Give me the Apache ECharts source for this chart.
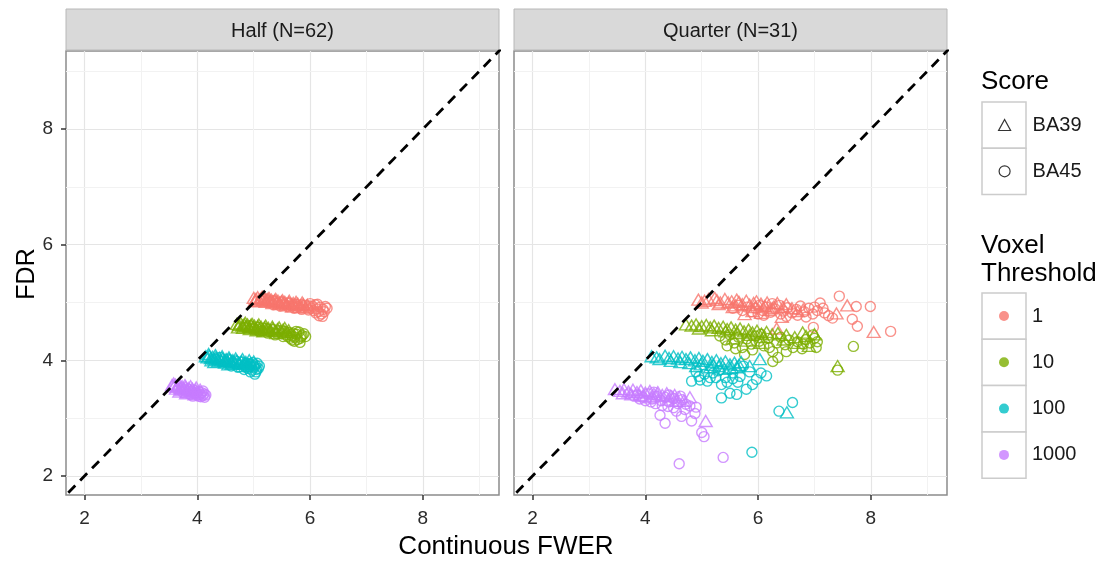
<!DOCTYPE html>
<html>
<head>
<meta charset="utf-8">
<script src="https://cdn.jsdelivr.net/npm/echarts@6/dist/echarts.min.js"></script>
<style>
html,body{margin:0;padding:0;background:#fff;}
#chart{width:1106px;height:562px;}
</style>
</head>
<body>
<div id="chart"></div>
<script>
// ---------- DATA ----------
const panelTitles = ['Half (N=62)', 'Quarter (N=31)'];
const thresholds = ['1', '10', '100', '1000'];
const scores = ['BA39', 'BA45'];
const tickValues = [2, 4, 6, 8];
const minorValues = [3, 5, 7, 9];
const axisRange = [1.67, 9.35];
const refLine = [[1.5, 1.5], [9.5, 9.5]];

// Half panel
const half_1_BA39 = [[5.00,5.08],[5.04,5.06],[5.07,5.09],[5.10,5.05],[5.13,5.07],[5.16,5.04],[5.19,5.08],[5.22,5.05],[5.25,5.06],[5.28,5.03],[5.31,5.05],[5.34,5.02],[5.37,5.04],[5.40,5.01],[5.43,5.03],[5.46,5.00],[5.49,5.02],[5.52,4.99],[5.55,5.01],[5.58,4.98],[5.62,5.00],[5.66,4.97],[5.70,4.99],[5.74,4.96],[5.78,4.98],[5.83,4.95],[5.88,4.97],[5.09,5.02],[5.21,5.01],[5.33,4.99],[5.45,4.97],[5.57,4.95],[5.02,5.03],[5.15,5.10],[5.27,5.08],[5.39,5.06],[5.51,5.04],[5.63,5.03],[5.75,5.01],[5.86,5.00],[5.95,4.96],[5.68,4.93],[5.80,4.92],[5.92,4.91]];
const half_1_BA45 = [[5.12,5.03],[5.20,5.06],[5.27,5.00],[5.35,5.03],[5.42,4.98],[5.50,5.01],[5.56,4.96],[5.63,4.99],[5.68,4.94],[5.74,4.97],[5.79,4.93],[5.84,4.96],[5.88,4.92],[5.92,4.95],[5.95,4.91],[5.99,4.94],[6.02,4.90],[6.05,4.93],[6.09,4.96],[6.12,4.89],[6.15,4.84],[6.18,4.92],[6.20,4.80],[6.23,4.88],[6.27,4.93],[6.10,4.82],[6.16,4.77],[5.97,4.87],[6.06,4.86],[5.35,4.96],[5.47,4.94],[5.60,4.93],[5.72,4.90],[5.85,4.88],[6.00,4.98],[6.13,4.97],[6.25,4.84],[6.30,4.90],[6.22,4.76]];
const half_10_BA39 = [[4.70,4.63],[4.74,4.61],[4.77,4.64],[4.80,4.60],[4.83,4.62],[4.86,4.59],[4.89,4.62],[4.92,4.58],[4.95,4.61],[4.98,4.57],[5.01,4.60],[5.04,4.56],[5.07,4.59],[5.10,4.55],[5.13,4.58],[5.16,4.54],[5.19,4.57],[5.22,4.53],[5.26,4.56],[5.30,4.52],[5.34,4.55],[5.38,4.51],[5.42,4.54],[5.47,4.50],[5.52,4.53],[5.57,4.49],[4.81,4.56],[4.93,4.54],[5.05,4.52],[5.17,4.50],[4.72,4.57],[4.85,4.65],[4.97,4.63],[5.09,4.62],[5.21,4.60],[5.33,4.58],[5.45,4.57],[5.55,4.56],[5.62,4.52],[5.40,4.47]];
const half_10_BA45 = [[4.85,4.57],[4.93,4.60],[5.00,4.54],[5.08,4.57],[5.15,4.51],[5.22,4.55],[5.28,4.49],[5.34,4.53],[5.40,4.47],[5.45,4.51],[5.50,4.46],[5.55,4.50],[5.59,4.44],[5.63,4.48],[5.67,4.42],[5.70,4.47],[5.73,4.40],[5.76,4.45],[5.80,4.49],[5.83,4.38],[5.86,4.43],[5.89,4.46],[5.72,4.33],[5.78,4.36],[5.65,4.38],[5.84,4.41],[5.60,4.41],[5.10,4.50],[5.25,4.47],[5.38,4.44],[5.52,4.41],[5.66,4.45],[5.75,4.50],[5.92,4.41],[5.82,4.31],[5.68,4.35]];
const half_100_BA39 = [[4.15,4.07],[4.18,4.05],[4.21,4.08],[4.24,4.04],[4.27,4.06],[4.30,4.02],[4.33,4.05],[4.36,4.01],[4.39,4.04],[4.42,4.00],[4.45,4.03],[4.48,3.99],[4.51,4.02],[4.54,3.98],[4.57,4.01],[4.60,3.97],[4.63,4.00],[4.66,3.96],[4.70,3.99],[4.74,3.95],[4.78,3.98],[4.82,3.94],[4.86,3.97],[4.90,3.93],[4.95,3.95],[4.25,4.00],[4.37,3.98],[4.49,3.96],[4.61,3.94],[4.20,4.11],[4.32,4.09],[4.44,4.07],[4.56,4.05],[4.68,4.03],[4.80,4.02],[4.92,4.00],[4.30,3.97],[4.55,3.93],[4.80,3.90],[5.00,3.98]];
const half_100_BA45 = [[4.32,4.02],[4.40,4.05],[4.47,3.99],[4.55,4.02],[4.62,3.96],[4.68,3.99],[4.74,3.93],[4.79,3.97],[4.84,3.91],[4.88,3.95],[4.92,3.89],[4.95,3.93],[4.98,3.96],[5.01,3.88],[5.03,3.92],[5.06,3.95],[5.08,3.86],[4.90,3.86],[4.97,3.83],[5.04,3.80],[4.86,3.88],[5.00,3.90],[4.60,3.90],[4.72,3.88],[4.83,3.84],[4.94,3.80],[5.05,3.84],[5.10,3.90],[4.70,3.94],[5.02,3.76]];
const half_1000_BA39 = [[3.55,3.57],[3.58,3.55],[3.61,3.58],[3.64,3.54],[3.67,3.56],[3.70,3.52],[3.73,3.55],[3.76,3.51],[3.79,3.54],[3.82,3.50],[3.85,3.52],[3.88,3.48],[3.91,3.51],[3.94,3.47],[3.97,3.49],[4.00,3.45],[3.62,3.51],[3.72,3.49],[3.82,3.46],[3.92,3.44],[3.58,3.60],[3.68,3.59],[3.78,3.57],[3.88,3.55],[3.98,3.53],[3.68,3.46],[3.80,3.43],[3.95,3.41],[4.05,3.49]];
const half_1000_BA45 = [[3.65,3.50],[3.72,3.53],[3.78,3.47],[3.84,3.50],[3.89,3.45],[3.94,3.48],[3.98,3.43],[4.02,3.46],[4.05,3.41],[4.08,3.44],[4.10,3.39],[4.12,3.42],[4.06,3.37],[4.00,3.40],[4.13,3.36],[3.95,3.42],[3.75,3.44],[3.88,3.41],[4.02,3.38],[4.10,3.47],[4.15,3.40],[3.92,3.38]];

// Quarter panel
const quarter_1_BA39 = [[4.94,5.05],[5.05,5.03],[5.12,5.06],[5.23,5.08],[5.27,5.04],[5.33,5.00],[5.41,5.06],[5.47,5.00],[5.53,5.02],[5.62,5.05],[5.66,5.01],[5.72,4.97],[5.79,5.03],[5.85,4.96],[5.92,4.99],[5.97,5.02],[6.05,4.98],[6.12,4.94],[6.16,5.00],[6.28,4.93],[6.34,4.99],[6.44,4.92],[5.76,4.80],[5.90,4.85],[6.05,4.82],[6.42,4.75],[6.60,4.90],[6.80,4.88],[7.39,4.81],[7.58,4.95],[8.05,4.49],[6.33,4.55],[5.55,4.92],[6.20,4.87],[5.00,5.00],[5.30,4.97],[5.60,4.95],[5.95,4.92],[6.25,4.90],[6.50,4.97],[6.70,4.85]];
const quarter_1_BA45 = [[5.55,4.90],[5.65,4.95],[5.72,4.86],[5.80,4.92],[5.88,4.84],[5.95,4.90],[6.02,4.95],[6.08,4.86],[6.15,4.92],[6.22,4.83],[6.30,4.89],[6.38,4.95],[6.45,4.85],[6.52,4.91],[6.60,4.82],[6.68,4.88],[6.75,4.94],[6.82,4.84],[6.90,4.90],[6.97,4.80],[7.05,4.86],[7.10,4.99],[7.18,4.82],[7.25,4.77],[7.32,4.73],[6.98,4.57],[7.44,5.11],[7.74,4.93],[7.99,4.93],[7.67,4.71],[7.76,4.59],[8.35,4.50],[6.10,4.78],[6.50,4.76],[6.00,4.80],[6.40,4.80],[6.70,4.78],[7.00,4.92],[6.85,4.75],[7.15,4.90],[6.25,4.98]];
const quarter_10_BA39 = [[4.72,4.62],[4.82,4.60],[4.90,4.62],[5.00,4.59],[5.08,4.61],[5.15,4.57],[5.22,4.60],[5.30,4.56],[5.38,4.58],[5.45,4.54],[5.52,4.57],[5.60,4.53],[5.68,4.55],[5.75,4.50],[5.83,4.53],[5.90,4.48],[5.98,4.51],[6.06,4.46],[6.15,4.49],[6.25,4.45],[6.35,4.47],[6.50,4.44],[6.65,4.40],[6.79,4.48],[7.00,4.45],[5.55,4.38],[5.80,4.34],[6.03,4.30],[7.41,3.90],[6.90,4.25],[4.95,4.55],[5.18,4.52],[5.42,4.50],[5.62,4.47],[5.85,4.44],[6.10,4.40],[6.45,4.36],[6.70,4.30],[6.85,4.42]];
const quarter_10_BA45 = [[5.32,4.42],[5.42,4.35],[5.50,4.44],[5.58,4.30],[5.65,4.40],[5.72,4.22],[5.76,4.10],[5.80,4.37],[5.88,4.28],[5.95,4.42],[6.02,4.33],[6.10,4.25],[6.18,4.38],[6.26,4.15],[6.26,3.98],[6.33,4.30],[6.40,4.40],[6.48,4.27],[6.55,4.35],[6.62,4.22],[6.70,4.32],[6.78,4.20],[6.85,4.36],[6.92,4.30],[6.97,4.44],[7.03,4.22],[7.05,4.32],[7.69,4.24],[7.41,3.83],[6.35,4.05],[5.45,4.25],[5.60,4.20],[5.90,4.18],[6.20,4.22],[6.50,4.15],[6.80,4.28],[7.00,4.38],[6.05,4.45]];
const quarter_100_BA39 = [[4.11,4.07],[4.20,4.05],[4.35,4.08],[4.42,4.04],[4.50,4.07],[4.58,4.03],[4.65,4.06],[4.72,4.02],[4.80,4.05],[4.88,4.00],[4.95,4.04],[5.02,3.99],[5.10,4.02],[5.18,3.97],[5.26,4.00],[5.34,3.95],[5.42,3.98],[5.50,3.93],[5.58,3.96],[5.66,3.92],[4.90,3.90],[5.15,3.88],[5.40,3.85],[6.03,4.02],[6.51,3.10],[5.85,3.90],[4.25,4.02],[4.45,3.99],[4.62,3.97],[4.78,3.95],[4.98,3.93],[5.20,3.92],[5.30,3.90],[5.50,3.87],[5.62,3.88],[5.70,3.97]];
const quarter_100_BA45 = [[4.82,3.64],[4.97,3.66],[5.10,3.64],[4.90,3.80],[5.05,3.76],[5.20,3.78],[5.30,3.82],[5.42,3.70],[5.35,3.35],[5.50,3.43],[5.62,3.41],[5.79,3.50],[5.64,3.62],[5.97,3.67],[6.15,3.73],[5.74,3.90],[5.85,3.80],[5.55,3.78],[5.68,3.72],[6.05,3.78],[5.25,3.70],[4.95,3.72],[6.37,3.12],[6.61,3.27],[5.89,2.41],[5.15,3.70],[5.45,3.62],[5.55,3.68],[5.90,3.58],[5.35,3.58]];
const quarter_1000_BA39 = [[3.46,3.50],[3.55,3.47],[3.62,3.50],[3.70,3.46],[3.78,3.49],[3.85,3.45],[3.92,3.48],[4.00,3.44],[4.08,3.47],[4.15,3.42],[4.22,3.45],[4.30,3.40],[4.38,3.43],[4.45,3.38],[4.52,3.40],[4.60,3.36],[3.90,3.40],[4.10,3.36],[4.79,3.36],[5.07,2.95],[3.60,3.43],[3.75,3.41],[3.95,3.38],[4.20,3.38],[4.40,3.32],[4.55,3.30],[4.68,3.30]];
const quarter_1000_BA45 = [[3.85,3.40],[3.95,3.36],[4.05,3.42],[4.12,3.33],[4.20,3.38],[4.28,3.30],[4.35,3.36],[4.42,3.28],[4.50,3.34],[4.58,3.25],[4.65,3.32],[4.72,3.24],[4.26,3.05],[4.35,2.91],[4.64,3.03],[4.79,3.21],[4.90,3.19],[4.82,2.95],[4.88,3.08],[5.00,2.75],[5.04,2.68],[4.60,2.21],[5.38,2.32],[4.55,3.12],[3.70,3.42],[3.80,3.38],[3.90,3.33],[4.00,3.30],[4.10,3.28],[4.18,3.25],[4.30,3.22],[4.40,3.20],[4.50,3.18],[4.15,3.45],[4.42,3.40],[4.62,3.38],[4.70,3.15]];

const panelData = [
  {'1': {BA39: half_1_BA39, BA45: half_1_BA45}, '10': {BA39: half_10_BA39, BA45: half_10_BA45},
   '100': {BA39: half_100_BA39, BA45: half_100_BA45}, '1000': {BA39: half_1000_BA39, BA45: half_1000_BA45}},
  {'1': {BA39: quarter_1_BA39, BA45: quarter_1_BA45}, '10': {BA39: quarter_10_BA39, BA45: quarter_10_BA45},
   '100': {BA39: quarter_100_BA39, BA45: quarter_100_BA45}, '1000': {BA39: quarter_1000_BA39, BA45: quarter_1000_BA45}}
];

// ---------- STYLE ----------
const colors = {'1': '#F8766D', '10': '#7CAE00', '100': '#00BFC4', '1000': '#C77CFF'};
const FONT = '"Liberation Sans", Arial, sans-serif';
const gridLefts = [66, 514];
const gridTop = 51, gridW = 433, gridH = 444;

const chart = echarts.init(document.getElementById('chart'), null, {renderer: 'canvas'});

const grids = gridLefts.map(l => ({left: l, top: gridTop, width: gridW, height: gridH,
  show: true, backgroundColor: '#fff', borderColor: '#8C8C8C', borderWidth: 1.5, containLabel: false}));

function mkAxis(i, isY, showLabels) {
  return {
    gridIndex: i, type: 'value', min: axisRange[0], max: axisRange[1],
    axisLine: {show: false},
    axisTick: {show: showLabels, customValues: tickValues, length: 5, lineStyle: {color: '#333', width: 1.5}},
    axisLabel: {show: showLabels, customValues: tickValues, color: '#2b2b2b', fontSize: 19, fontFamily: FONT, margin: isY ? 13 : 14},
    splitLine: {show: true, lineStyle: {color: '#E5E5E5', width: 1.2}},
    minorTick: {show: false}, minorSplitLine: {show: false}
  };
}

const xAxes = [mkAxis(0, false, true), mkAxis(1, false, true)];
const yAxes = [mkAxis(0, true, true), mkAxis(1, true, false)];

const series = [];
[0, 1].forEach(p => {
  series.push({
    type: 'line', xAxisIndex: p, yAxisIndex: p, data: refLine, symbol: 'none', silent: true, z: 4,
    lineStyle: {color: '#000', width: 2.8, type: [10, 7]},
    markLine: {
      silent: true, symbol: 'none', z: 1, animation: false, label: {show: false},
      lineStyle: {color: '#F2F2F2', width: 1, type: 'solid'},
      data: minorValues.map(v => ({xAxis: v})).concat(minorValues.map(v => ({yAxis: v})))
    }
  });
  thresholds.forEach(t => {
    scores.forEach(s => {
      const tri = s === 'BA39';
      series.push({
        type: 'scatter', name: panelTitles[p] + ' ' + t + ' ' + s,
        xAxisIndex: p, yAxisIndex: p, z: 3,
        symbol: tri ? 'triangle' : 'circle',
        symbolSize: tri ? [13, 11] : 10,
        itemStyle: {color: 'rgba(0,0,0,0)', borderColor: colors[t], borderWidth: 1.4},
        data: panelData[p][t][s]
      });
    });
  });
});

// legend-only series
scores.forEach(s => series.push({type: 'scatter', name: s, xAxisIndex: 0, yAxisIndex: 0, data: [],
  symbol: s === 'BA39' ? 'triangle' : 'circle', itemStyle: {color: '#000'}}));
thresholds.forEach(t => series.push({type: 'scatter', name: t, xAxisIndex: 0, yAxisIndex: 0, data: [],
  symbol: 'circle', itemStyle: {color: colors[t]}}));

// legend key frames
const keyBoxes = [];
const scoreTop = 102, voxTop = 293, rowH = 46.3;
scores.forEach((s, i) => keyBoxes.push({type: 'rect', shape: {x: 982, y: scoreTop + i * rowH, width: 44, height: rowH},
  style: {fill: '#fff', stroke: '#CCCCCC', lineWidth: 1.5}, silent: true, z: -1}));
thresholds.forEach((t, i) => keyBoxes.push({type: 'rect', shape: {x: 982, y: voxTop + i * rowH, width: 44, height: rowH},
  style: {fill: '#fff', stroke: '#CCCCCC', lineWidth: 1.5}, silent: true, z: -1}));

const graphics = [
  ...gridLefts.map((l, i) => ({type: 'rect', shape: {x: l, y: 9, width: gridW, height: 41},
    style: {fill: '#D9D9D9', stroke: '#B8B8B8', lineWidth: 1}, silent: true})),
  ...gridLefts.map((l, i) => ({type: 'text', x: l + gridW / 2, y: 31,
    style: {text: panelTitles[i], fill: '#1a1a1a', font: '20px ' + FONT, textAlign: 'center', textVerticalAlign: 'middle'}, silent: true})),
  {type: 'text', x: 506, y: 547, style: {text: 'Continuous FWER', fill: '#000', font: '26px ' + FONT, textAlign: 'center', textVerticalAlign: 'middle'}, silent: true},
  {type: 'text', x: 27, y: 274, rotation: Math.PI / 2, style: {text: 'FDR', fill: '#000', font: '25px ' + FONT, textAlign: 'center', textVerticalAlign: 'middle'}, silent: true},
  {type: 'text', x: 981, y: 82, style: {text: 'Score', fill: '#000', font: '26px ' + FONT, textAlign: 'left', textVerticalAlign: 'middle'}, silent: true},
  {type: 'text', x: 981, y: 246, style: {text: 'Voxel', fill: '#000', font: '26px ' + FONT, textAlign: 'left', textVerticalAlign: 'middle'}, silent: true},
  {type: 'text', x: 981, y: 274, style: {text: 'Threshold', fill: '#000', font: '26px ' + FONT, textAlign: 'left', textVerticalAlign: 'middle'}, silent: true},
  ...keyBoxes
];

const legendText = {color: '#1a1a1a', fontSize: 20, fontFamily: FONT, lineHeight: 24};
const option = {
  animation: false,
  backgroundColor: '#fff',
  grid: grids,
  xAxis: xAxes,
  yAxis: yAxes,
  legend: [
    {orient: 'vertical', left: 998, top: 113, padding: 0, itemWidth: 12, itemHeight: 11, itemGap: 22.3,
     selectedMode: false, textStyle: Object.assign({padding: [0, 0, 0, 17]}, legendText), z: 10,
     data: [
       {name: 'BA39', icon: 'triangle', itemStyle: {color: 'rgba(0,0,0,0)', borderColor: '#000', borderWidth: 1.2}},
       {name: 'BA45', icon: 'circle', itemStyle: {color: 'rgba(0,0,0,0)', borderColor: '#000', borderWidth: 1.2}}
     ]},
    {orient: 'vertical', left: 999, top: 304, padding: 0, itemWidth: 10, itemHeight: 10, itemGap: 22.3,
     selectedMode: false, textStyle: Object.assign({padding: [0, 0, 0, 18]}, legendText), z: 10,
     data: thresholds.map(t => ({name: t, icon: 'circle'}))}
  ],
  graphic: graphics,
  series: series
};
chart.setOption(option);
</script>
</body>
</html>
